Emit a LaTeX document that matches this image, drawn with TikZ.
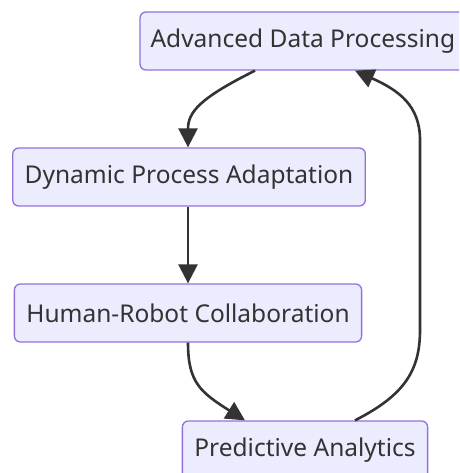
\documentclass[tikz,border=0pt]{standalone}
\usepackage{fontspec}
\setmainfont{Noto Sans}
\usetikzlibrary{arrows.meta,calc}
\definecolor{boxfill}{HTML}{ECECFF}
\definecolor{boxline}{HTML}{9370DB}
\definecolor{ink}{HTML}{333333}
\tikzset{
  boxfont/.style={font=\fontsize{24.5}{29}\selectfont},
  procbox/.style={draw=boxline, fill=boxfill, line width=1.3pt, rounded corners=6pt,
    minimum height=58pt, inner xsep=12pt, text=ink, boxfont},
  flow/.style={draw=ink, line width=2.6pt,
    -{Triangle[length=19pt,width=19pt]}}
}
\begin{document}
\begin{tikzpicture}[x=1pt,y=-1pt]
  \useasboundingbox (0,0) rectangle (459,473);
  \clip (0,0) rectangle (459,473);
  % top box runs past the right edge of the page
  \node[procbox, minimum width=346pt] (adp) at (313,41) {};
  \node[text=ink, boxfont, inner sep=0pt, anchor=west] (adpt) at ([xshift=11pt]adp.west) {Advanced Data Processing};
  \node[procbox] (dpa) at (189,177) {Dynamic Process Adaptation};
  \node[procbox] (hrc) at (188,313) {Human-Robot Collaboration};
  \node[procbox] (pa)  at (305,450) {Predictive Analytics};

  \draw[flow] ([xshift=-58pt]adp.south) .. controls (200,98) and (188,112) .. ([xshift=-1pt]dpa.north);
  \draw[flow] ([xshift=-1pt]dpa.south) -- (hrc.north);
  \draw[flow] (hrc.south) .. controls (188,382) and (200,392) .. ([xshift=-60pt]pa.north);
  \draw[flow] ([xshift=50pt]pa.north) .. controls (405,395) and (420,370) .. (420,330)
     -- (420,140) .. controls (420,105) and (398,90) .. ([xshift=42pt]adp.south);
\end{tikzpicture}
\end{document}
